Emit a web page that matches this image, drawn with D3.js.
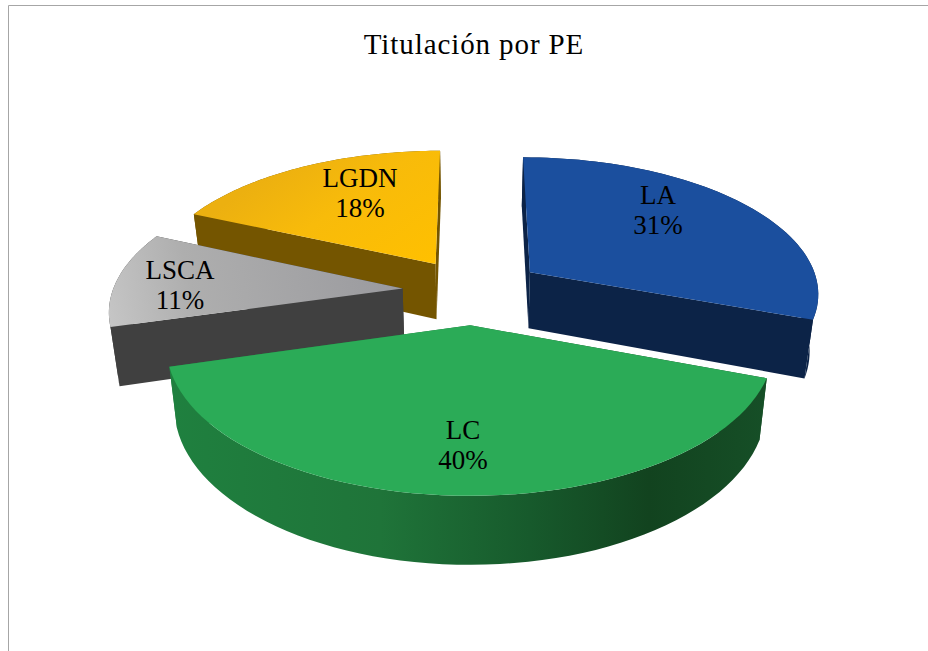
<!DOCTYPE html>
<html>
<head>
<meta charset="utf-8">
<script src="https://cdnjs.cloudflare.com/ajax/libs/d3/7.8.5/d3.min.js"></script>
<style>
html, body { margin: 0; padding: 0; background: #fff; }
svg { display: block; }
text { font-family: "Liberation Serif", serif; fill: #000; }
</style>
</head>
<body>
<svg width="928" height="651"></svg>
<script>
var title = "Titulación por PE";
var categories = ["LA", "LC", "LSCA", "LGDN"];
var values = [30.6, 40.0, 11.1, 18.3];
var percentLabels = ["31%", "40%", "11%", "18%"];

var svg = d3.select("svg"),
	width = +svg.attr("width"),
	height = +svg.attr("height");

// perspective of the pie plane
var cx = 473, cy = 291,
	rx = 290,
	ry = 136,
	persp = 0.14,
	explode = 0.244,
	thick = 57,
	converge = 0.025, // vertical edges lean in towards the bottom
	rot = 0;

var topColor = {LA: "#1b4f9e", LC: "#2bab57", LSCA: "url(#gradLSCA)", LGDN: "url(#gradLGDN)"};
var wallColor = {LA: "#0c2347", LC: "url(#gradLC)", LSCA: "#404040", LGDN: "#745500"};
// draw order, back slices first
var drawOrder = ["LGDN", "LSCA", "LA", "LC"];
var labelPos = {LA: [658, 204], LC: [463, 439], LSCA: [180, 279], LGDN: [360, 187]};

// frame
svg.append("path")
	.attr("d", "M8.5," + height + "V5.5H" + width)
	.attr("fill", "none")
	.attr("stroke", "#a6a6a6")
	.attr("stroke-width", 1);

var defs = svg.append("defs");
function gradient(id, x1, y1, x2, y2, stops) {
	var g = defs.append("linearGradient").attr("id", id)
		.attr("gradientUnits", "userSpaceOnUse")
		.attr("x1", x1).attr("y1", y1).attr("x2", x2).attr("y2", y2);
	stops.forEach(function(s) {
		g.append("stop").attr("offset", s[0]).attr("stop-color", s[1]);
	});
}
gradient("gradLC", 172, 0, 768, 0, [[0, "#1f803f"], [0.35, "#1f7439"], [0.6, "#175a2c"], [0.8, "#12431f"], [1, "#164f27"]]);
gradient("gradLSCA", 108, 330, 400, 270, [[0, "#c6c6c6"], [0.3, "#aeaeae"], [1, "#9a9a9e"]]);
gradient("gradLGDN", 300, 150, 400, 290, [[0, "#ecb010"], [0.4, "#f8bb0a"], [1, "#ffc000"]]);

function project(a, d, h) {
	// a: clockwise angle from the back of the pie, d: distance in radii, h: depth below the top
	var px = d.ox + d.r * Math.sin(a),
		pv = d.ov - d.r * Math.cos(a),
		s = 1 / (1 - persp * pv);
	return [cx + rx * px * s * (1 - converge * h), cy + ry * pv * s + h * thick * s];
}

var pie = d3.pie().sort(null).startAngle(rot).endAngle(rot + 2 * Math.PI);
var arcs = pie(values);
var line = d3.line();

var slices = {};
arcs.forEach(function(a, i) {
	var mid = (a.startAngle + a.endAngle) / 2;
	slices[categories[i]] = {
		a0: a.startAngle,
		a1: a.endAngle,
		r: 1,
		ox: explode * Math.sin(mid),
		ov: -explode * Math.cos(mid)
	};
});

function apex(d, h) {
	return project(0, {ox: d.ox, ov: d.ov, r: 0}, h);
}

function arcPoints(d, h) {
	var n = 60;
	return d3.range(n + 1).map(function(i) {
		return project(d.a0 + (d.a1 - d.a0) * i / n, d, h);
	});
}

drawOrder.forEach(function(name) {
	var d = slices[name];
	var g = svg.append("g").attr("class", "slice");
	var top = arcPoints(d, 0), bottom = arcPoints(d, 1);
	var walls = [
		{pts: top.concat(bottom.slice().reverse()), v: -2},
		{pts: [apex(d, 0), top[0], bottom[0], apex(d, 1)], v: -Math.cos(d.a0)},
		{pts: [apex(d, 0), top[top.length - 1], bottom[bottom.length - 1], apex(d, 1)], v: -Math.cos(d.a1)}
	];
	// LC shows its curved wall, the others their cut faces
	if (name == "LC") walls[0].v = 2;
	walls.sort(function(p, q) { return p.v - q.v; });
	walls.forEach(function(w) {
		g.append("path")
			.attr("d", line(w.pts) + "Z")
			.attr("fill", wallColor[name]);
	});
	g.append("path")
		.attr("d", line([apex(d, 0)].concat(top)) + "Z")
		.attr("fill", topColor[name]);
});

// labels
categories.forEach(function(name, i) {
	var t = svg.append("text")
		.attr("x", labelPos[name][0])
		.attr("y", labelPos[name][1])
		.attr("text-anchor", "middle")
		.attr("font-size", 27);
	t.append("tspan").attr("x", labelPos[name][0]).text(name);
	t.append("tspan").attr("x", labelPos[name][0]).attr("dy", 30).text(percentLabels[i]);
});

svg.append("text")
	.attr("x", 474)
	.attr("y", 54)
	.attr("text-anchor", "middle")
	.attr("font-size", 29)
	.attr("letter-spacing", 0.9)
	.text(title);
</script>
</body>
</html>
